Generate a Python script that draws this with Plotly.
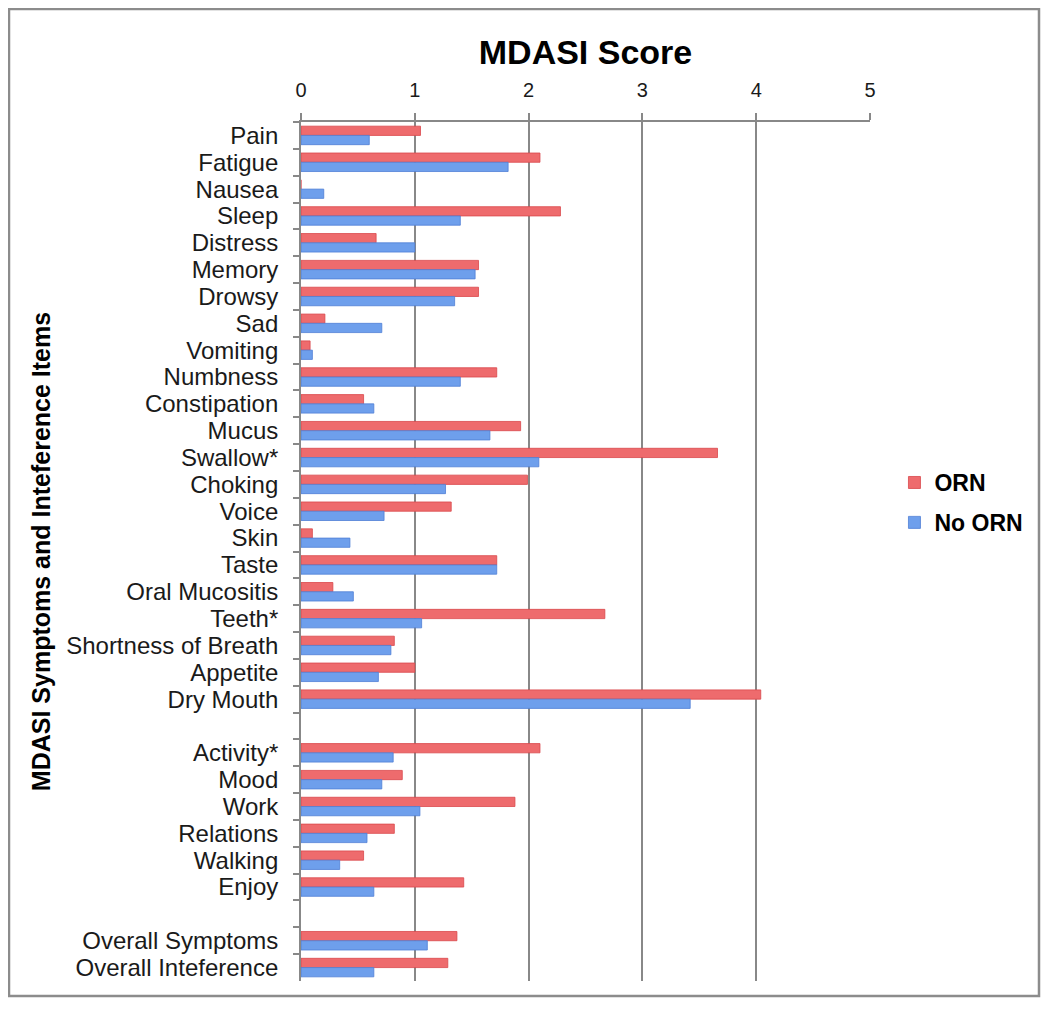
import plotly.graph_objects as go

# categories top to bottom; " " and "  " are the empty spacer rows
items = ["Pain", "Fatigue", "Nausea", "Sleep", "Distress", "Memory", "Drowsy",
         "Sad", "Vomiting", "Numbness", "Constipation", "Mucus", "Swallow*",
         "Choking", "Voice", "Skin", "Taste", "Oral Mucositis", "Teeth*",
         "Shortness of Breath", "Appetite", "Dry Mouth", " ",
         "Activity*", "Mood", "Work", "Relations", "Walking", "Enjoy", "  ",
         "Overall Symptoms", "Overall Inteference"]

orn = [1.05, 2.10, 0.0, 2.28, 0.66, 1.56, 1.56,
       0.21, 0.08, 1.72, 0.55, 1.93, 3.66,
       1.99, 1.32, 0.10, 1.72, 0.28, 2.67,
       0.82, 1.00, 4.04, None,
       2.10, 0.89, 1.88, 0.82, 0.55, 1.43, None,
       1.37, 1.29]

no_orn = [0.60, 1.82, 0.20, 1.40, 1.00, 1.53, 1.35,
          0.71, 0.10, 1.40, 0.64, 1.66, 2.09,
          1.27, 0.73, 0.43, 1.72, 0.46, 1.06,
          0.79, 0.68, 3.42, None,
          0.81, 0.71, 1.045, 0.58, 0.34, 0.64, None,
          1.11, 0.64]

x_ticks = [0, 1, 2, 3, 4, 5]

# page has an 8px body margin, so keep the figure small enough to avoid scrollbars
W, H = 1034, 990
L, R, T, B = 293, 172, 114, 17

fig = go.Figure()

fig.add_trace(go.Bar(
    y=items, x=orn, name="<b>ORN</b>", orientation="h",
    marker=dict(color="#EE6B6D", line=dict(color="#D9484B", width=0.8)),
    legendgroup="a",
))

fig.add_trace(go.Bar(
    y=items, x=no_orn, name="<b>No ORN</b>", orientation="h",
    marker=dict(color="#6E9FEC", line=dict(color="#4F7FD6", width=0.8)),
    legendgroup="b",
))

# border around the whole chart
pw, ph = W - L - R, H - T - B
fig.add_shape(type="rect", xref="paper", yref="paper",
              x0=(1 - L) / pw, x1=(W - 3 - L) / pw,
              y0=1 - (H - 2 - T) / ph, y1=1 + (T - 1) / ph,
              line=dict(color="#8C8C8C", width=2.5), layer="below")

fig.update_layout(
    width=W, height=H,
    margin=dict(l=L, r=R, t=T, b=B),
    paper_bgcolor="white", plot_bgcolor="white",
    barmode="group", bargap=0.31, bargroupgap=0,
    font=dict(family="Liberation Sans, Arial, sans-serif", color="#1a1a1a"),
    title=dict(text="<b>MDASI Score</b>", x=(L + pw / 2) / W, xanchor="center",
               y=1 - 44 / H, yanchor="middle",
               font=dict(size=34, color="black")),
    legend=dict(x=1.043, y=0.557, xanchor="left", yanchor="middle",
                font=dict(size=23, color="black"), tracegroupgap=7,
                itemwidth=30, bgcolor="rgba(0,0,0,0)"),
    showlegend=True,
)

fig.update_xaxes(
    side="top", range=[0, 5], tickvals=x_ticks,
    showgrid=True, gridcolor="#888888", gridwidth=1.8,
    showline=True, linecolor="#888888", linewidth=1.8,
    ticks="outside", ticklen=7, tickcolor="#888888", tickwidth=1.5,
    ticklabelstandoff=8,
    tickfont=dict(size=20, color="#1a1a1a"), zeroline=False,
)

fig.update_yaxes(
    categoryorder="array", categoryarray=items, autorange="reversed",
    tickmode="linear", tick0=0, dtick=1,
    tickson="boundaries", ticks="outside", ticklen=6, tickcolor="#888888",
    tickwidth=1.5, showline=True, linecolor="#888888", linewidth=1.8,
    showgrid=False, ticklabelstandoff=16,
    tickfont=dict(size=24, color="#1a1a1a"),
    title=dict(text="<b>MDASI Symptoms and Inteference Items</b>",
               font=dict(size=25, color="black"), standoff=8),
)

fig.write_html("out.html")
